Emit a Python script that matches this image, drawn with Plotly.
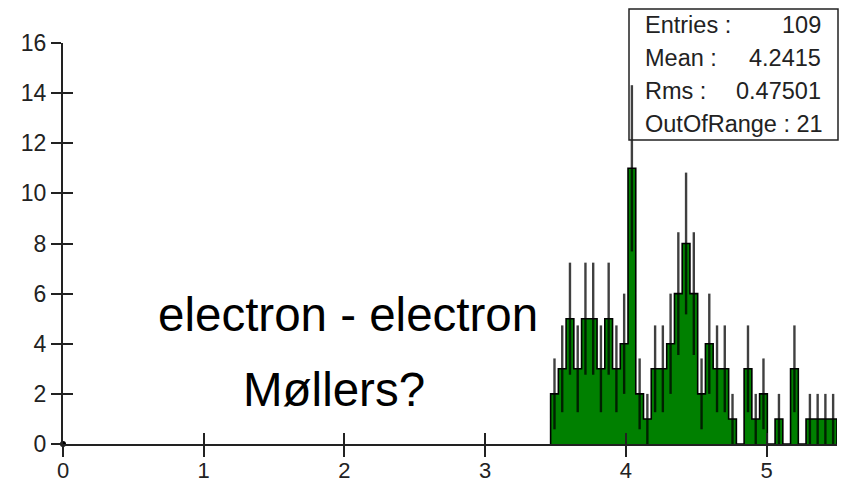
import numpy as np
import plotly.graph_objects as go

# ---------------- data ----------------
x_lo, x_hi, n_bins = 0.0, 5.5, 100          # histogram binning
first_bin = 63                               # index of first non-empty bin
counts = [2, 3, 5, 3, 5, 5, 3, 5, 3, 4, 11, 2, 1, 3, 3, 4, 6, 8, 6, 2,
          4, 3, 3, 1, 0, 3, 1, 2, 0, 1, 0, 3, 0, 1, 1, 1, 1]
x_ticks = [0, 1, 2, 3, 4, 5]
y_ticks = [0, 2, 4, 6, 8, 10, 12, 14, 16]
y_max = 16
stats_labels = ["Entries :", "Mean :", "Rms :"]
stats_values = ["109", "4.2415", "0.47501"]
out_of_range_text = "OutOfRange : 21"
caption_lines = ["electron - electron", "Møllers?"]

# ---------------- layout helpers ----------------
W, H = 842, 484
ml, mr, mt, mb = 63, 5, 43, 40
pw, ph = W - ml - mr, H - mt - mb


def px(xp):
    return (xp - ml) / pw


def py(yp):
    return (H - mb - yp) / ph


FONT = "Liberation Sans, Arial, Helvetica, sans-serif"
INK = "#222222"

bw = (x_hi - x_lo) / n_bins
idx = np.arange(first_bin, first_bin + len(counts))
centers = x_lo + (idx + 0.5) * bw
edges = x_lo + np.arange(first_bin, first_bin + len(counts) + 1) * bw
c = np.array(counts, dtype=float)
err = np.sqrt(c)

fig = go.Figure()

# filled bars
fig.add_trace(go.Bar(
    x=centers, y=c, width=bw,
    marker=dict(color="#008000", line=dict(width=0)),
    hoverinfo="skip", showlegend=False,
))

# step outline
sx = np.concatenate([[edges[0]], edges[:-1], [edges[-1]]])
sy = np.concatenate([[0.0], c, [0.0]])
fig.add_trace(go.Scatter(
    x=sx, y=sy, mode="lines",
    line=dict(shape="hv", color="black", width=1.6),
    hoverinfo="skip", showlegend=False,
))

# Poisson error bars
mask = c > 0
fig.add_trace(go.Scatter(
    x=centers[mask], y=c[mask], mode="markers",
    marker=dict(size=1, color="rgba(0,0,0,0)"),
    error_y=dict(type="data", array=err[mask], width=0, thickness=2.4,
                 color="rgba(0,0,0,0.75)"),
    hoverinfo="skip", showlegend=False,
))

# origin dot
fig.add_trace(go.Scatter(
    x=[x_lo], y=[0], mode="markers",
    marker=dict(size=6, color="black"), cliponaxis=False,
    hoverinfo="skip", showlegend=False,
))

# dummy trace for the overlay axes (inner half of the crossing ticks)
fig.add_trace(go.Scatter(
    x=[x_lo], y=[0], xaxis="x2", yaxis="y2", mode="markers",
    marker=dict(size=1, color="rgba(0,0,0,0)"),
    hoverinfo="skip", showlegend=False,
))

tick_common = dict(showgrid=False, zeroline=False, tickwidth=2, tickcolor=INK)

fig.update_layout(
    width=W, height=H,
    margin=dict(l=ml, r=mr, t=mt, b=mb, pad=0, autoexpand=False),
    paper_bgcolor="white", plot_bgcolor="white",
    bargap=0, showlegend=False,
    font=dict(family=FONT, color=INK),
    xaxis=dict(range=[x_lo, x_hi], tickvals=x_ticks, ticks="outside", ticklen=11,
               showline=True, linecolor=INK, linewidth=2, automargin=False,
               ticklabelstandoff=-5,
               tickfont=dict(size=22, family=FONT, color=INK), **tick_common),
    yaxis=dict(range=[0, y_max], tickvals=y_ticks, ticks="outside", ticklen=10,
               showline=True, linecolor=INK, linewidth=2, automargin=False,
               tickfont=dict(size=23, family=FONT, color=INK), **tick_common),
    xaxis2=dict(range=[x_lo, x_hi], tickvals=x_ticks, ticks="inside", ticklen=11,
                overlaying="x", anchor="y", side="bottom", showline=False,
                showticklabels=False, automargin=False, **tick_common),
    yaxis2=dict(range=[0, y_max], tickvals=y_ticks, ticks="inside", ticklen=10,
                overlaying="y", anchor="x", side="left", showline=False,
                showticklabels=False, automargin=False, **tick_common),
)

# statistics box
fig.add_shape(type="rect", xref="paper", yref="paper",
              x0=px(629), x1=px(838), y0=py(140), y1=py(9),
              line=dict(color=INK, width=1.5), fillcolor="rgba(0,0,0,0)",
              layer="above")
row_y = [25, 58, 91.5, 124]
STAT_SIZE = 23.5
for lab, val, ry in zip(stats_labels, stats_values, row_y):
    fig.add_annotation(text=lab, xref="paper", yref="paper", x=px(643), y=py(ry),
                       xanchor="left", yanchor="middle", showarrow=False,
                       font=dict(size=STAT_SIZE, family=FONT, color=INK))
    fig.add_annotation(text=val, xref="paper", yref="paper", x=px(823), y=py(ry),
                       xanchor="right", yanchor="middle", showarrow=False,
                       font=dict(size=STAT_SIZE, family=FONT, color=INK))
fig.add_annotation(text=out_of_range_text, xref="paper", yref="paper",
                   x=px(643), y=py(row_y[3]), xanchor="left", yanchor="middle",
                   showarrow=False, font=dict(size=STAT_SIZE, family=FONT, color=INK))

# captions
for txt, cx, cy in zip(caption_lines, [347.5, 334], [314.5, 389.5]):
    fig.add_annotation(text=txt, xref="paper", yref="paper", x=px(cx), y=py(cy),
                       xanchor="center", yanchor="middle", showarrow=False,
                       font=dict(size=47.5, family=FONT, color="black"))

# remove the browser's default page margin so the figure fills the window
fig.write_html("out.html", config={"displayModeBar": False},
               post_script="document.body.style.margin='0';")
